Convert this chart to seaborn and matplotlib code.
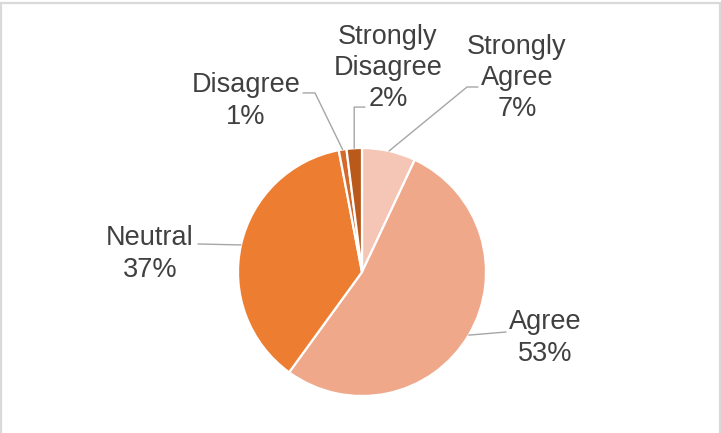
# importing the seaborn module
import seaborn as sns
# importing the matplotlib module
import matplotlib
matplotlib.use("Agg")
import matplotlib.pyplot as plt
from matplotlib.lines import Line2D
# importing numpy
import numpy as np

# survey answers, in the order they go round the pie (clockwise from the top)
categories = ["Strongly\nAgree", "Agree", "Neutral", "Disagree", "Strongly\nDisagree"]
percents = [7, 53, 37, 1, 2]
slice_colors = ["#F5C6B5", "#F0A88A", "#ED7D31", "#D4692A", "#B95A1C"]

# where each label block sits (centre of text) and the bend of its leader line
label_pos = [(1.25, 1.565), (1.476, -0.532), (-1.71, 0.145), (-0.935, 1.379), (0.21, 1.645)]
leader_bend = [[(0.847, 1.492), (0.935, 1.492)],
               [(1.161, -0.484)],
               [(-1.323, 0.226)],
               [(-0.379, 1.444), (-0.476, 1.444)],
               [(-0.063, 1.33), (0.024, 1.33)]]

sns.set_theme(style="white")
plt.rcParams['font.family'] = ['Liberation Sans', 'DejaVu Sans']

fig = plt.figure(figsize=(7.21, 4.33), dpi=100)
# pie centre at (362, 272) px, radius 124 px
cx, cy, r = 362 / 721, 1 - 272 / 433, 124
ax = fig.add_axes([cx - r / 721, cy - r / 433, 2 * r / 721, 2 * r / 433])

wedges, _ = ax.pie(percents, colors=slice_colors, startangle=90, counterclock=False,
                   wedgeprops=dict(edgecolor="white", linewidth=1.6))
ax.set_xlim(-1, 1)
ax.set_ylim(-1, 1)
ax.set_aspect("equal")
ax.axis("off")

# labels with leader lines from the middle of each slice
for w, cat, pct, pos, bend in zip(wedges, categories, percents, label_pos, leader_bend):
    mid = np.deg2rad((w.theta1 + w.theta2) / 2)
    start = (np.cos(mid), np.sin(mid))
    pts = [start] + bend
    xs = [p[0] for p in pts]
    ys = [p[1] for p in pts]
    ax.plot(xs, ys, color="#A6A6A6", lw=1.0, clip_on=False)
    ax.text(pos[0], pos[1], f"{cat}\n{pct}%", ha="center", va="center",
            fontsize=19.5, color="#404040", linespacing=1.27, clip_on=False)

# light grey frame round the chart area (no bottom edge visible)
frame = "#D9D9D9"
fig.add_artist(Line2D([0, 1], [1 - 2.5 / 433] * 2, color=frame, lw=1.6))
fig.add_artist(Line2D([0.8 / 721] * 2, [0, 1 - 2.5 / 433], color=frame, lw=1.6))
fig.add_artist(Line2D([1 - 1.5 / 721] * 2, [0, 1 - 2.5 / 433], color=frame, lw=1.6))

fig.savefig("out.png", dpi=100)
